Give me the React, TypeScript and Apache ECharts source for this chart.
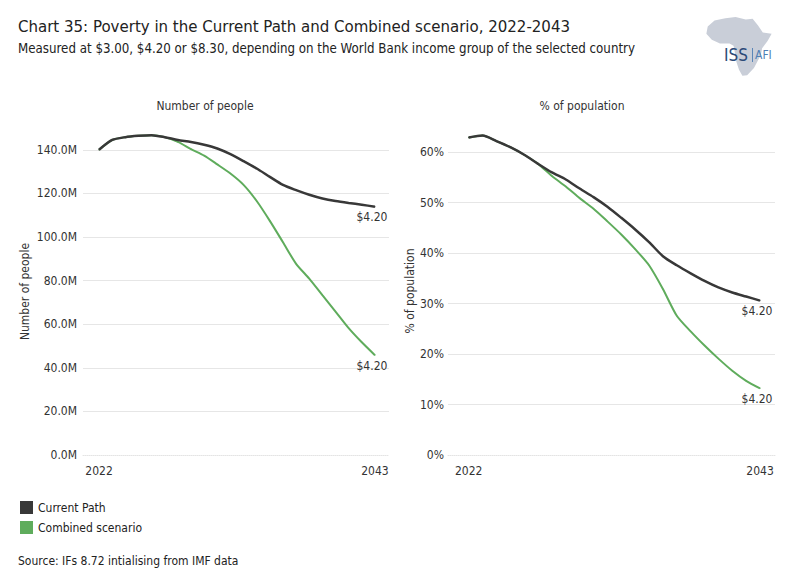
import React, { useEffect, useRef } from "react";
import * as echarts from "echarts";

const years = [2022, 2023, 2024, 2025, 2026, 2027, 2028, 2029, 2030, 2031, 2032, 2033, 2034, 2035, 2036, 2037, 2038, 2039, 2040, 2041, 2042, 2043];
// Number of people (millions)
const cpPeople = [140.0, 144.5, 145.8, 146.4, 146.7, 145.8, 144.5, 143.6, 142.3, 140.6, 138.0, 134.8, 131.4, 127.6, 123.9, 121.5, 119.4, 117.7, 116.5, 115.6, 114.8, 113.9];
const combPeople = [140.0, 144.5, 145.8, 146.4, 146.7, 145.8, 143.6, 140.3, 137.3, 133.3, 129.1, 123.9, 116.5, 107.4, 97.6, 87.7, 80.9, 73.3, 65.8, 58.2, 51.7, 45.8];
// % of population
const cpPct = [62.9, 63.3, 62.2, 61.0, 59.5, 57.7, 56.0, 54.6, 52.8, 51.1, 49.2, 47.0, 44.7, 42.2, 39.4, 37.6, 36.0, 34.5, 33.2, 32.2, 31.4, 30.6];
const combPct = [62.9, 63.3, 62.2, 61.0, 59.5, 57.7, 55.3, 53.2, 50.9, 48.8, 46.3, 43.7, 40.8, 37.6, 32.9, 27.6, 24.5, 21.7, 19.1, 16.7, 14.7, 13.2];
const peopleTicks = [0, 20, 40, 60, 80, 100, 120, 140];
const pctTicks = [0, 10, 20, 30, 40, 50, 60];
const xLabels = [2022, 2043];
const endLabelText = "$4.20";
const seriesNames = ["Current Path", "Combined scenario"];

const FONT = "'Liberation Sans Narrow', 'DejaVu Sans Condensed', 'Liberation Sans', sans-serif";
const DARK = "#383838";
const GREEN = "#5fac5c";
const TXT = "#333333";

const AFRICA =
  "M30 2 L45 0 L60 4 L70 3 L78 14 L85 26 L98 28 L92 40 L84 52 L82 64 L78 72 L72 85 L62 97 L55 98 L50 88 L46 74 L44 60 L42 48 L36 44 L22 44 L10 38 L2 28 L4 16 L14 6 Z";

let registered = false;

function pairs(vals: number[]) {
  return vals.map((v, i) => {
    if (i === vals.length - 1) {
      return {
        value: [years[i], v],
        label: {
          show: true,
          position: "bottom",
          distance: 4,
          offset: [-3, 0],
          formatter: endLabelText,
          color: TXT,
          fontSize: 12,
          fontFamily: FONT,
        },
      };
    }
    return { value: [years[i], v] };
  });
}

export default function App() {
  const ref = useRef<HTMLDivElement>(null);
  useEffect(() => {
    if (!ref.current) return;
    if (!registered) {
      echarts.graphic.registerShape("africa", echarts.graphic.extendPath(AFRICA, {}));
      registered = true;
    }
    const chart = echarts.init(ref.current, undefined, { renderer: "svg" });
    const yAxisCommon = {
      type: "value",
      min: 0,
      splitLine: { show: true, showMaxLine: false, showMinLine: false, lineStyle: { color: "#e6e6e6", width: 1 } },
      axisLine: { show: false },
      axisTick: { show: false },
      nameLocation: "middle",
      nameRotate: 90,
      nameTextStyle: { color: TXT, fontSize: 12, fontFamily: FONT },
    };
    const xAxisCommon = {
      type: "value",
      axisLine: { show: true, lineStyle: { color: "#e4e4e4", type: "dotted" } },
      axisTick: { show: false },
      splitLine: { show: false },
      axisLabel: {
        customValues: xLabels,
        formatter: (v: number) => String(Math.round(v)),
        color: TXT,
        fontSize: 12,
        fontFamily: FONT,
        margin: 10,
      },
    };
    const lineCommon = {
      type: "line",
      smooth: 0.25,
      symbol: "circle",
      symbolSize: 1,
      showSymbol: true,
      label: { show: false },
    };
    chart.setOption({
      animation: false,
      backgroundColor: "#ffffff",
      textStyle: { fontFamily: FONT },
      title: [
        {
          text: "Chart 35: Poverty in the Current Path and Combined scenario, 2022-2043",
          left: 13,
          top: 12,
          textStyle: { fontSize: 16.7, fontWeight: "normal", color: "#222", fontFamily: FONT },
        },
        {
          text: "Measured at $3.00, $4.20 or $8.30, depending on the World Bank income group of the selected country",
          left: 13,
          top: 37,
          textStyle: { fontSize: 13.2, fontWeight: "normal", color: "#222", fontFamily: FONT },
        },
        {
          text: "Number of people",
          left: 200,
          top: 95,
          textAlign: "center",
          textStyle: { fontSize: 12, fontWeight: "normal", color: TXT, fontFamily: FONT },
        },
        {
          text: "% of population",
          left: 577,
          top: 95,
          textAlign: "center",
          textStyle: { fontSize: 12, fontWeight: "normal", color: TXT, fontFamily: FONT },
        },
        {
          text: "Source: IFs 8.72 intialising from IMF data",
          left: 13,
          top: 550,
          textStyle: { fontSize: 12, fontWeight: "normal", color: "#222", fontFamily: FONT },
        },
      ],
      legend: {
        orient: "vertical",
        left: 15,
        top: 496,
        icon: "rect",
        itemWidth: 13,
        itemHeight: 13,
        itemGap: 7,
        data: seriesNames,
        textStyle: { color: "#222", fontSize: 12, fontFamily: FONT },
      },
      grid: [
        { left: 83, width: 306, top: 128, height: 327, containLabel: false },
        { left: 448, width: 327, top: 127, height: 328, containLabel: false },
      ],
      xAxis: [
        { ...xAxisCommon, gridIndex: 0, min: 2020.78, max: 2044.07 },
        { ...xAxisCommon, gridIndex: 1, min: 2020.51, max: 2044.08 },
      ],
      yAxis: [
        {
          ...yAxisCommon,
          gridIndex: 0,
          max: 150,
          interval: 20,
          name: "Number of people",
          nameGap: 52,
          axisLabel: {
            customValues: peopleTicks,
            formatter: (v: number) => v.toFixed(1) + "M",
            color: TXT,
            fontSize: 12,
            fontFamily: FONT,
            margin: 6,
          },
        },
        {
          ...yAxisCommon,
          gridIndex: 1,
          max: 65,
          interval: 10,
          name: "% of population",
          nameGap: 29,
          axisLabel: {
            customValues: pctTicks,
            formatter: (v: number) => v + "%",
            color: TXT,
            fontSize: 12,
            fontFamily: FONT,
            margin: 4,
          },
        },
      ],
      series: [
        { ...lineCommon, name: seriesNames[1], xAxisIndex: 0, yAxisIndex: 0, data: pairs(combPeople), color: GREEN, lineStyle: { color: GREEN, width: 2 }, z: 2 },
        { ...lineCommon, name: seriesNames[0], xAxisIndex: 0, yAxisIndex: 0, data: pairs(cpPeople), color: DARK, lineStyle: { color: DARK, width: 2.5 }, z: 3 },
        { ...lineCommon, name: seriesNames[1], xAxisIndex: 1, yAxisIndex: 1, data: pairs(combPct), color: GREEN, lineStyle: { color: GREEN, width: 2 }, z: 2 },
        { ...lineCommon, name: seriesNames[0], xAxisIndex: 1, yAxisIndex: 1, data: pairs(cpPct), color: DARK, lineStyle: { color: DARK, width: 2.5 }, z: 3 },
      ],
      graphic: [
        {
          type: "africa",
          x: 705,
          y: 17,
          scaleX: 0.68,
          scaleY: 0.6,
          style: { fill: "#c9ced8" },
          z: 10,
        },
        {
          type: "text",
          x: 724,
          y: 46,
          style: { text: "ISS", fontSize: 17, fill: "#2c4a78", fontFamily: FONT },
          z: 11,
        },
        {
          type: "rect",
          shape: { x: 752, y: 48, width: 1, height: 14 },
          style: { fill: "#5b86b8" },
          z: 11,
        },
        {
          type: "text",
          x: 755,
          y: 49,
          style: { text: "AFI", fontSize: 12, fill: "#4f7fb5", fontFamily: FONT },
          z: 11,
        },
      ],
    });
    return () => chart.dispose();
  }, []);
  return <div ref={ref} style={{ width: 786, height: 588, position: "absolute", left: 0, top: 0 }} />;
}
